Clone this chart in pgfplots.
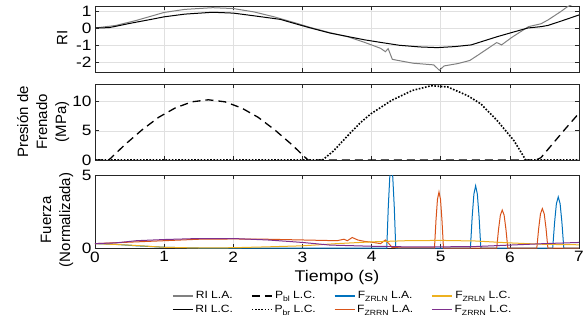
\documentclass[border=0pt]{standalone}
\usepackage{fontspec}
\setmainfont{Liberation Sans}[FakeStretch=1.15]
\newfontfamily\rotfont{Liberation Sans}
\usepackage{pgfplots}
\pgfplotsset{compat=1.18}
\definecolor{mblue}{rgb}{0,0.447,0.741}
\definecolor{morange}{rgb}{0.85,0.325,0.098}
\definecolor{myellow}{rgb}{0.929,0.694,0.125}
\definecolor{mpurple}{rgb}{0.494,0.184,0.556}
\definecolor{mgray}{rgb}{0.5,0.5,0.5}
\newcommand{\sub}[1]{\raisebox{-0.55ex}{\fontsize{7.5}{8}\selectfont #1}}
\pgfplotsset{
 mystyle/.style={
  scale only axis, width=484pt, xmin=0, xmax=7, xtick={0,...,7},
  tick align=inside, major tick length=4pt,
  xtick pos=both, ytick pos=both,
  grid=major, major grid style={black!12, line width=0.5pt},
  axis line style={black!85, line width=0.6pt},
  tick style={black!85, line width=0.6pt},
  tick label style={font=\fontsize{15}{16}\selectfont},
  /pgf/number format/assume math mode=true,
  ylabel style={font=\rotfont\fontsize{15}{19}\selectfont, align=center, anchor=center},
  every axis plot/.append style={line width=1pt},
 },
 dashP/.style={black, line width=1.3pt, dash pattern=on 8pt off 5pt},
 dotP/.style={black, line width=1.6pt, dash pattern=on 1.6pt off 1.6pt},
}
\begin{document}
\begin{tikzpicture}
% ---------- Panel 1: RI ----------
\begin{axis}[mystyle, at={(95pt,-72pt)}, anchor=south west, height=66pt,
  ymin=-2.6, ymax=1.3, ytick={-2,-1,0,1}, xticklabels={},
  ylabel={RI}, ylabel style={at={(axis description cs:-0.068,0.515)}}]
\addplot[mgray] coordinates {
(0,0) (0.3,0.15) (0.6,0.45) (1.0,0.92) (1.3,1.1) (1.7,1.2) (2.0,1.15) (2.3,0.95)
(2.6,0.65) (2.9,0.3) (3.1,0.05) (3.4,-0.28) (3.65,-0.51) (3.9,-0.85) (4.13,-1.2)
(4.2,-1.4) (4.24,-1.22) (4.3,-1.85) (4.36,-1.9) (4.6,-2.08) (4.9,-2.18) (4.98,-2.5)
(5.05,-2.24) (5.25,-2.1) (5.42,-1.92) (5.54,-1.6) (5.81,-0.86) (5.88,-1.0) (6.03,-0.55)
(6.27,0.08) (6.45,0.25) (6.55,0.47) (6.74,0.98) (6.83,1.25) (7.0,1.6)};
\addplot[black] coordinates {
(0,0) (0.2,0.02) (0.3,0.1) (0.5,0.27) (0.8,0.5) (1.0,0.66) (1.3,0.82) (1.7,0.93)
(2.0,0.88) (2.3,0.72) (2.68,0.51) (2.9,0.25) (3.1,0.02) (3.4,-0.3) (3.65,-0.5)
(3.9,-0.7) (4.13,-0.85) (4.4,-1.02) (4.7,-1.12) (4.95,-1.16) (5.2,-1.1) (5.44,-1.0)
(5.82,-0.51) (6.0,-0.3) (6.26,0) (6.45,0.08) (6.55,0.15) (6.75,0.42) (7.0,0.77)};
\end{axis}
% ---------- Panel 2: Presion ----------
\begin{axis}[mystyle, at={(95pt,-160pt)}, anchor=south west, height=76pt,
  ymin=0, ymax=13, ytick={0,5,10}, xticklabels={},
  ylabel={Presión de\\Frenado\\(MPa)}, ylabel style={at={(axis description cs:-0.107,0.5)}}]
\addplot[dotP] coordinates {
(0,0) (3.29,0) (3.45,1.55) (3.65,4.1) (3.84,6.4) (3.99,7.9) (4.29,10.2) (4.59,11.9)
(4.86,12.7) (5.10,12.5) (5.39,11.0) (5.58,9.6) (5.82,6.7) (6.06,3.3) (6.23,0) (7,0)};
\addplot[dashP] coordinates {
(0,0) (0.2,0) (0.44,2.7) (0.68,5.15) (0.92,7.3) (1.16,8.9) (1.40,9.95) (1.64,10.3)
(1.88,9.95) (2.12,8.9) (2.36,7.3) (2.60,5.15) (2.84,2.7) (3.08,0) (6.38,0)
(6.45,0.4) (6.6,2.5) (6.8,5.3) (7.0,8.0)};
\end{axis}
% ---------- Panel 3: Fuerza ----------
\begin{axis}[mystyle, at={(95pt,-248pt)}, anchor=south west, height=73pt,
  ymin=0, ymax=5, ytick={0,5},
  ylabel={Fuerza\\(Normalizada)}, ylabel style={at={(axis description cs:-0.0785,0.384)}},
  xlabel={Tiempo (s)},
  xlabel style={font=\fontsize{15.5}{17}\selectfont, at={(axis description cs:0.5,-0.41)}, anchor=center},
  legend columns=4,
  legend image code/.code={\draw[#1] (0pt,0pt) -- (20pt,0pt);},
  legend style={at={(axis description cs:0.159,-0.565)}, anchor=north west, draw=none,
    fill=none, inner sep=0pt, font=\fontsize{10.5}{12}\selectfont,
    /tikz/every even column/.append style={column sep=16pt},
    /tikz/every odd column/.append style={column sep=0pt},
    row sep=1pt},
]
\addlegendimage{mgray, line width=1.3pt}\addlegendentry{RI L.A.}
\addlegendimage{dashP}\addlegendentry{P\sub{bl} L.C.}
\addlegendimage{mblue, line width=1.3pt}\addlegendentry{F\sub{ZRLN} L.A.}
\addlegendimage{myellow, line width=1.3pt}\addlegendentry{F\sub{ZRLN} L.C.}
\addlegendimage{black, line width=1.3pt}\addlegendentry{RI L.C.}
\addlegendimage{dotP}\addlegendentry{P\sub{br} L.C.}
\addlegendimage{morange, line width=1.3pt}\addlegendentry{F\sub{ZRRN} L.A.}
\addlegendimage{mpurple, line width=1.3pt}\addlegendentry{F\sub{ZRRN} L.C.}
% F_ZRLN L.A.
\addplot[mblue, forget plot] coordinates {
(0,0.3) (0.3,0.25) (0.6,0.15) (1.0,0.05) (1.5,0.0) (4.22,0)
(4.2417,2.8) (4.2633,4.85) (4.285,5.6) (4.3067,4.85) (4.3283,2.8) (4.35,0)
(5.43,0) (5.455,2.13) (5.48,3.69) (5.505,4.26) (5.53,3.69) (5.555,2.13) (5.58,0)
(6.62,0) (6.647,1.75) (6.673,3.03) (6.70,3.5) (6.727,3.03) (6.753,1.75) (6.78,0) (7,0)};
% F_ZRRN L.A.
\addplot[morange, forget plot] coordinates {
(0,0.3) (0.5,0.4) (1.0,0.5) (1.5,0.6) (2.0,0.62) (2.5,0.6) (3.0,0.55) (3.3,0.52)
(3.5,0.5) (3.6,0.6) (3.65,0.5) (3.72,0.72) (3.8,0.55) (3.9,0.45) (4.0,0.4) (4.13,0.3)
(4.2,0.55) (4.25,0.3) (4.3,0.02) (4.91,0)
(4.932,1.92) (4.953,3.33) (4.975,3.84) (4.997,3.33) (5.018,1.92) (5.04,0)
(5.81,0) (5.837,1.3) (5.863,2.25) (5.89,2.6) (5.917,2.25) (5.943,1.3) (5.97,0)
(6.39,0) (6.417,1.35) (6.443,2.34) (6.47,2.7) (6.497,2.34) (6.523,1.35) (6.55,0) (7,0)};
% F_ZRLN L.C.
\addplot[myellow, forget plot] coordinates {
(0,0.3) (0.5,0.2) (1.0,0.05) (1.5,0.0) (2.0,0.02) (2.5,0.08) (3.0,0.15) (3.5,0.3)
(4.0,0.42) (4.5,0.5) (5.0,0.52) (5.5,0.48) (6.0,0.35) (6.5,0.25) (7.0,0.22)};
% F_ZRRN L.C.
\addplot[mpurple, forget plot] coordinates {
(0,0.3) (0.3,0.35) (0.6,0.5) (1.0,0.58) (1.5,0.65) (2.0,0.65) (2.5,0.55) (2.8,0.45)
(3.0,0.38) (3.4,0.2) (4.0,0.12) (4.5,0.08) (5.0,0.08) (5.5,0.1) (6.0,0.2) (6.5,0.3) (7.0,0.38)};
\end{axis}
\pgfresetboundingbox
\path[use as bounding box] (0pt,0pt) rectangle (587pt,-321pt);
\end{tikzpicture}
\end{document}
